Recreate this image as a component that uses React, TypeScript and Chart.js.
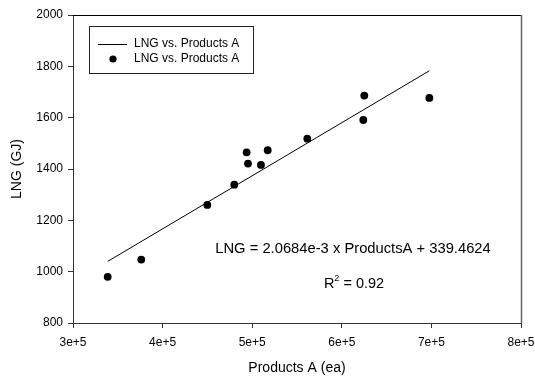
import React, { useEffect, useRef } from "react";
import { Chart, registerables } from "chart.js";

Chart.register(...registerables);

// ---- data ----
const productsA = [338700, 376200, 449900, 480000, 493800, 495300, 509800, 517300, 561500, 625100, 624000, 697700];
const lngGJ = [980, 1047, 1260, 1339, 1465, 1421, 1416, 1473, 1518, 1686, 1591, 1677];
const fitSlope = 2.0684e-3;
const fitIntercept = 339.4624;
const xTickValues = [300000, 400000, 500000, 600000, 700000, 800000];
const xTickLabels = ["3e+5", "4e+5", "5e+5", "6e+5", "7e+5", "8e+5"];
const yTickValues = [800, 1000, 1200, 1400, 1600, 1800, 2000];
const seriesLabel = "LNG vs. Products A";
const xTitle = "Products A (ea)";
const yTitle = "LNG (GJ)";
const equationText = "LNG = 2.0684e-3 x ProductsA + 339.4624";
const r2Text = "0.92";

const FONT = "Arial, 'Liberation Sans', sans-serif";

export default function App() {
  const canvasRef = useRef<HTMLCanvasElement | null>(null);

  useEffect(() => {
    const canvas = canvasRef.current;
    if (!canvas) return;

    const xMinData = Math.min(...productsA);
    const xMaxData = Math.max(...productsA);
    const fitLine = [
      { x: xMinData, y: fitSlope * xMinData + fitIntercept },
      { x: xMaxData, y: fitSlope * xMaxData + fitIntercept },
    ];
    const points = productsA.map((x, i) => ({ x, y: lngGJ[i] }));

    const decor = {
      id: "decor",
      afterDraw(chart: any) {
        const ctx = chart.ctx as CanvasRenderingContext2D;
        const a = chart.chartArea;
        ctx.save();
        // frame top / right
        ctx.strokeStyle = "#000";
        ctx.lineWidth = 1;
        ctx.beginPath();
        ctx.moveTo(a.left, Math.round(a.top) + 0.5);
        ctx.lineTo(a.right, Math.round(a.top) + 0.5);
        ctx.stroke();
        ctx.strokeStyle = "#666";
        ctx.lineWidth = 1.5;
        ctx.beginPath();
        ctx.moveTo(Math.round(a.right) + 0.5, a.top);
        ctx.lineTo(Math.round(a.right) + 0.5, a.bottom);
        ctx.stroke();

        // legend
        ctx.strokeStyle = "#222";
        ctx.lineWidth = 1;
        ctx.strokeRect(89.5, 26.5, 164, 47);
        ctx.strokeStyle = "#000";
        ctx.beginPath();
        ctx.moveTo(98, 44.5);
        ctx.lineTo(127, 44.5);
        ctx.stroke();
        ctx.fillStyle = "#000";
        ctx.beginPath();
        ctx.arc(113, 59, 3.6, 0, Math.PI * 2);
        ctx.fill();
        ctx.font = `12px ${FONT}`;
        ctx.textAlign = "left";
        ctx.textBaseline = "middle";
        ctx.fillText(seriesLabel, 134, 44);
        ctx.fillText(seriesLabel, 134, 59);

        // equation annotation
        ctx.font = `14.75px ${FONT}`;
        ctx.textAlign = "center";
        ctx.fillText(equationText, 353, 249);

        // R^2
        const big = `14.5px ${FONT}`;
        const small = `9px ${FONT}`;
        ctx.font = big;
        const wR = ctx.measureText("R").width;
        const wRest = ctx.measureText(" = " + r2Text).width;
        ctx.font = small;
        const w2 = ctx.measureText("2").width;
        const total = wR + w2 + wRest;
        const x0 = 354 - total / 2;
        ctx.textAlign = "left";
        ctx.font = big;
        ctx.fillText("R", x0, 284);
        ctx.font = small;
        ctx.fillText("2", x0 + wR, 279);
        ctx.font = big;
        ctx.fillText(" = " + r2Text, x0 + wR + w2, 284);

        // axis titles
        ctx.font = `14px ${FONT}`;
        ctx.textAlign = "center";
        ctx.fillText(xTitle, (a.left + a.right) / 2, 368);
        ctx.translate(17, (a.top + a.bottom) / 2);
        ctx.rotate(-Math.PI / 2);
        ctx.fillText(yTitle, 0, 0);
        ctx.restore();
      },
    };

    const chart = new Chart(canvas, {
      type: "scatter",
      data: {
        datasets: [
          {
            type: "line",
            label: seriesLabel,
            data: fitLine,
            borderColor: "#000",
            borderWidth: 1,
            pointRadius: 0,
            fill: false,
            showLine: true,
            order: 2,
          } as any,
          {
            type: "scatter",
            label: seriesLabel,
            data: points,
            backgroundColor: "#000",
            borderColor: "#000",
            borderWidth: 0,
            pointRadius: 3.9,
            order: 1,
          },
        ],
      },
      options: {
        responsive: false,
        animation: false,
        layout: { padding: { left: 0, top: 15, right: 14, bottom: 0 } },
        plugins: {
          legend: { display: false },
          tooltip: { enabled: false },
        },
        scales: {
          x: {
            type: "linear",
            min: 300000,
            max: 800000,
            afterBuildTicks: (s: any) => {
              s.ticks = xTickValues.map((v) => ({ value: v }));
            },
            afterFit: (s: any) => {
              s.height = 53;
              s.paddingLeft = 0;
              s.paddingRight = 0;
            },
            ticks: {
              color: "#000",
              font: { family: FONT, size: 12 },
              padding: 7,
              maxRotation: 0,
              autoSkip: false,
              callback: (v: any) => {
                const i = xTickValues.indexOf(Number(v));
                return i >= 0 ? xTickLabels[i] : "";
              },
            },
            grid: {
              display: true,
              drawOnChartArea: false,
              drawTicks: true,
              tickLength: 5,
              color: "#333",
            },
            border: { display: true, color: "#333", width: 1 },
          },
          y: {
            type: "linear",
            min: 800,
            max: 2000,
            afterBuildTicks: (s: any) => {
              s.ticks = yTickValues.map((v) => ({ value: v }));
            },
            afterFit: (s: any) => {
              s.width = 73;
              s.paddingTop = 0;
              s.paddingBottom = 0;
            },
            ticks: {
              color: "#000",
              font: { family: FONT, size: 12 },
              padding: 5,
              autoSkip: false,
              callback: (v: any) => String(v),
            },
            grid: {
              display: true,
              drawOnChartArea: false,
              drawTicks: true,
              tickLength: 5,
              color: "#333",
            },
            border: { display: true, color: "#333", width: 1 },
          },
        },
      },
      plugins: [decor],
    });

    return () => chart.destroy();
  }, []);

  return (
    <div style={{ position: "absolute", left: 0, top: 0, width: 535, height: 376, background: "#fff" }}>
      <canvas ref={canvasRef} width={535} height={376} />
    </div>
  );
}
